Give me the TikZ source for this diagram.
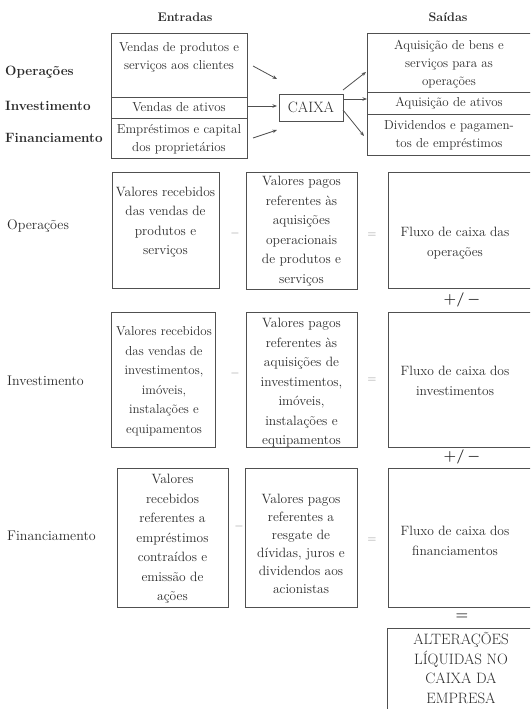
\documentclass[tikz,border=0pt]{standalone}
\usetikzlibrary{arrows.meta}
\definecolor{ln}{HTML}{505050}
\definecolor{tx}{HTML}{2A2A2A}
\definecolor{op}{HTML}{8A8A8A}
\begin{document}
\begin{tikzpicture}[x=1pt,y=-1pt,
  every node/.style={text=tx},
  box/.style={draw=ln, line width=1pt, inner sep=0pt, rectangle},
  topt/.style={align=center, inner sep=0pt, font=\fontsize{13}{18}\selectfont},
  midt/.style={align=center, inner sep=0pt, font=\fontsize{13.5}{19.5}\selectfont},
  rowlab/.style={anchor=west, inner sep=0pt, font=\fontsize{14}{16}\selectfont},
  toplab/.style={anchor=west, inner sep=0pt, font=\fontsize{13.5}{16}\selectfont\bfseries},
  head/.style={inner sep=0pt, font=\fontsize{12.5}{15}\selectfont\bfseries},
  oper/.style={inner sep=0pt, text=op, font=\fontsize{12}{14}\selectfont},
  pm/.style={inner sep=0pt, font=\fontsize{15}{17}\selectfont\bfseries\boldmath},
  arr/.style={draw=ln, line width=0.8pt, -{Stealth[length=4.5pt,width=3.5pt]}}
]
\useasboundingbox (0,0) rectangle (530,709);
\clip (0,0) rectangle (530,709);

% headers
\node[head] (hin) at (185,17) {Entradas};
\node[head] (hout) at (448,17) {Saídas};

% top labels
\node[toplab] (lop) at (5,72) {Operações};
\node[toplab] (linv) at (5,106) {Investimento};
\node[toplab] (lfin) at (5,138) {Financiamento};

% left group
\node[box, minimum width=136pt, minimum height=63pt] (inop) at (179,65.5) {};
\node[box, minimum width=136pt, minimum height=21pt] (ininv) at (179,107.5) {};
\node[box, minimum width=136pt, minimum height=40pt] (infin) at (179,138) {};
\node[topt] (inopt) at (179,57) {Vendas de produtos e\\serviços aos clientes};
\node[topt] (ininvt) at (179,107.5) {Vendas de ativos};
\node[topt] (infint) at (179,139) {Empréstimos e capital\\dos proprietários};

% caixa
\node[box, minimum width=64pt, minimum height=27pt, font=\fontsize{15}{17}\selectfont] (caixa) at (311,107.5) {CAIXA};

% right group
\node[box, minimum width=168pt, minimum height=58pt] (outop) at (451,63) {};
\node[box, minimum width=168pt, minimum height=22pt] (outinv) at (451,103) {};
\node[box, minimum width=168pt, minimum height=41pt] (outfin) at (451,134.5) {};
\node[topt] (outopt) at (449,64) {Aquisição de bens e\\serviços para as\\operações};
\node[topt] (outinvt) at (449,103.5) {Aquisição de ativos};
\node[topt] (outfint) at (449,135.5) {Dividendos e pagamen-\\tos de empréstimos};

% arrows
\coordinate (a1s) at (253,66);  \coordinate (a1e) at (277,79);
\coordinate (a2s) at (248,106); \coordinate (a2e) at (277,106);
\coordinate (a3s) at (253,138); \coordinate (a3e) at (277,130);
\coordinate (b1s) at (343,90);  \coordinate (b1e) at (366,72);
\coordinate (b2s) at (343,99);  \coordinate (b2e) at (367,99);
\coordinate (b3s) at (343,110); \coordinate (b3e) at (364,136);
\draw[arr] (a1s) -- (a1e);
\draw[arr] (a2s) -- (a2e);
\draw[arr] (a3s) -- (a3e);
\draw[arr] (b1s) -- (b1e);
\draw[arr] (b2s) -- (b2e);
\draw[arr] (b3s) -- (b3e);

% row labels
\node[rowlab] (rop) at (7,226) {Operações};
\node[rowlab] (rinv) at (7,381) {Investimento};
\node[rowlab] (rfin) at (7,536) {Financiamento};

% row 1
\node[box, minimum width=107pt, minimum height=116pt] (r1a) at (165.5,230) {};
\node[midt] (r1at) at (165.5,222) {Valores recebidos\\das vendas de\\produtos e\\serviços};
\node[box, minimum width=111pt, minimum height=117pt] (r1b) at (301.5,230.5) {};
\node[midt] (r1bt) at (301.5,231) {Valores pagos\\referentes às\\aquisições\\operacionais\\de produtos e\\serviços};
\node[box, minimum width=146pt, minimum height=116pt] (r1c) at (461,230) {};
\node[midt] (r1ct) at (455,243) {Fluxo de caixa das\\operações};
\node[oper] (m1) at (235,233) {$-$};
\node[oper] (e1) at (372,235) {$=$};
\node[pm] (pm1) at (462,300) {$+/\,-$};

% row 2
\node[box, minimum width=104pt, minimum height=135pt] (r2a) at (163.5,379.5) {};
\node[midt, font=\fontsize{13}{19.5}\selectfont] (r2at) at (164,381) {Valores recebidos\\das vendas de\\investimentos,\\imóveis,\\instalações e\\equipamentos};
\node[box, minimum width=111pt, minimum height=135pt] (r2b) at (301.5,379.5) {};
\node[midt] (r2bt) at (301.5,383) {Valores pagos\\referentes às\\aquisições de\\investimentos,\\imóveis,\\instalações e\\equipamentos};
\node[box, minimum width=146pt, minimum height=135pt] (r2c) at (461,379.5) {};
\node[midt] (r2ct) at (455,381) {Fluxo de caixa dos\\investimentos};
\node[oper] (m2) at (235,373) {$-$};
\node[oper] (e2) at (372,380) {$=$};
\node[pm] (pm2) at (462,457) {$+/\,-$};

% row 3
\node[box, minimum width=111pt, minimum height=139pt] (r3a) at (172.5,537.5) {};
\node[midt] (r3at) at (172.5,539) {Valores\\recebidos\\referentes a\\empréstimos\\contraídos e\\emissão de\\ações};
\node[box, minimum width=112pt, minimum height=139pt] (r3b) at (301,537.5) {};
\node[midt, font=\fontsize{13.5}{18}\selectfont] (r3bt) at (301,544) {Valores pagos\\referentes a\\resgate de\\dívidas, juros e\\dividendos aos\\acionistas};
\node[box, minimum width=146pt, minimum height=139pt] (r3c) at (461,537.5) {};
\node[midt] (r3ct) at (455,541) {Fluxo de caixa dos\\financiamentos};
\node[oper] (m3) at (239,526) {$-$};
\node[oper] (e3) at (372,540) {$=$};
\node[pm] (eq4) at (462,617) {$=$};

% final
\node[box, minimum width=147pt, minimum height=120pt] (fin) at (460.5,688) {};
\node[align=center, inner sep=0pt, font=\fontsize{15}{19.5}\selectfont] (fint) at (461,668) {ALTERAÇÕES\\LÍQUIDAS NO\\CAIXA DA\\EMPRESA};
\end{tikzpicture}
\end{document}
